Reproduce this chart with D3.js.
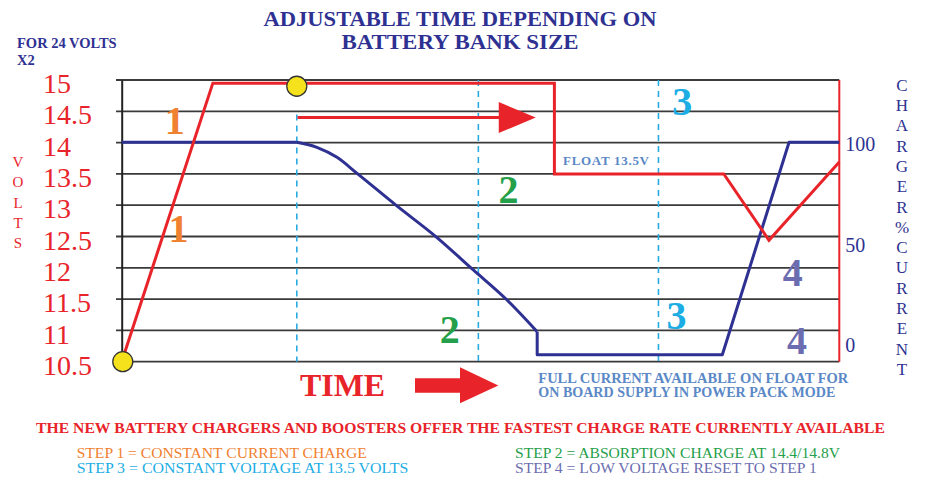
<!DOCTYPE html>
<html>
<head>
<meta charset="utf-8">
<script src="https://cdn.jsdelivr.net/npm/d3@7"></script>
<style>
  body { margin: 0; background: #fff; }
  svg { display: block; font-family: "Liberation Serif", "Times New Roman", serif; }
</style>
</head>
<body>
<script>
// charger voltage (left axis) over time, time is 0..100 of the charge cycle
const voltTime = [0, 12.7, 60.3, 60.3, 83.9, 90.2, 100];
const voltValues = [10.5, 14.95, 14.95, 13.5, 13.5, 12.44, 13.69];

// charger current in % (right axis)
const currentTime = [0, 24.4, 27.2, 30, 32.8, 38.3, 43.9, 49.0, 53.7, 57.9, 57.9, 83.7, 93.0, 100];
const currentPct = [100, 100, 97.5, 92.5, 84.5, 68.4, 52.6, 36.3, 21.3, 5.5, -6, -6, 100, 100];
// points 1..9 are the smooth taper of the absorption stage
const taperStart = 1, taperEnd = 9;

const voltTicks = [10.5, 11, 11.5, 12, 12.5, 13, 13.5, 14, 14.5, 15];
const currentTicks = [0, 50, 100];

// stage boundaries (dashed lines) and the markers
const stageTimes = [24.4, 49.7, 74.8];
const markerTime = [0.15, 24.4];
const markerVolt = [10.5, 14.9];

// absorption arrow at 14.4 V
const arrowVolt = 14.4;
const arrowFrom = 24.5, arrowTo = 57.7;

const steps = ["STEP 1 = CONSTANT CURRENT CHARGE", "STEP 2 = ABSORPTION CHARGE AT 14.4/14.8V",
               "STEP 3 = CONSTANT VOLTAGE AT 13.5 VOLTS", "STEP 4 = LOW VOLTAGE RESET TO STEP 1"];

const red = "#e8242a", navy = "#2e3192", orange = "#f08130", green = "#25a04a",
      cyan = "#1badE4", slate = "#6b6db0", steel = "#5b88c6";
const stepColor = { "1": orange, "2": green, "3": cyan, "4": slate };

// where the big step numbers sit (time, volts)
const stepMarks = [
  { s: "1", t: 7.4, v: 14.14 }, { s: "1", t: 7.9, v: 12.42 },
  { s: "2", t: 53.9, v: 13.03 }, { s: "2", t: 45.7, v: 10.8 },
  { s: "3", t: 78.1, v: 14.44 }, { s: "3", t: 77.3, v: 11.02 },
  { s: "4", t: 93.5, v: 11.71 }, { s: "4", t: 94.1, v: 10.63 }
];

const svg = d3.select("body").append("svg")
  .attr("width", 925)
  .attr("height", 477);

const x = d3.scaleLinear().domain([0, 100]).range([121.7, 839.3]);
const y = d3.scaleLinear().domain([10.5, 15]).range([361.7, 80]);
const y2 = d3.scaleLinear().domain([0, 100]).range([342.7, 142.3]);

// title
svg.selectAll(".title")
  .data(["ADJUSTABLE TIME DEPENDING ON", "BATTERY BANK SIZE"])
  .enter().append("text")
    .attr("x", 460)
    .attr("y", (d, i) => 26 + i * 23.3)
    .attr("text-anchor", "middle")
    .attr("textLength", (d, i) => i == 0 ? 393 : 237)
    .attr("lengthAdjust", "spacingAndGlyphs")
    .style("font-size", "20px")
    .style("font-weight", "bold")
    .style("fill", navy)
    .text(d => d);

svg.selectAll(".note")
  .data(["FOR 24 VOLTS", "X2"])
  .enter().append("text")
    .attr("x", 17)
    .attr("y", (d, i) => 48 + i * 17)
    .style("font-size", "14.5px")
    .style("font-weight", "bold")
    .style("fill", navy)
    .text(d => d);

// grid lines
svg.append("g").selectAll("line")
  .data(voltTicks)
  .enter().append("line")
    .attr("x1", 116)
    .attr("x2", x(100))
    .attr("y1", d => y(d))
    .attr("y2", d => y(d))
    .attr("stroke", "#3a3a3a")
    .attr("stroke-width", 1.8);

// left axis
const leftAxis = svg.append("g")
  .attr("transform", "translate(" + x(0) + ",0)")
  .call(d3.axisLeft(y).tickValues(voltTicks).tickSize(0).tickFormat(d => d));
leftAxis.select(".domain").attr("stroke", "#222").attr("stroke-width", 2);
leftAxis.selectAll("text")
  .attr("x", 43 - x(0))
  .attr("dy", "0.45em")
  .attr("text-anchor", "start")
  .style("font-family", "'Liberation Serif', serif")
  .style("font-size", "28px")
  .style("fill", red);

// right axis
const rightAxis = svg.append("g")
  .attr("transform", "translate(" + x(100) + ",0)")
  .call(d3.axisRight(y2).tickValues(currentTicks).tickSize(0).tickPadding(6));
rightAxis.select(".domain")
  .attr("d", "M0," + y(15) + "V" + y(10.5))
  .attr("stroke", red)
  .attr("stroke-width", 2);
rightAxis.selectAll("text")
  .attr("dy", "0.43em")
  .style("font-family", "'Liberation Serif', serif")
  .style("font-size", "20px")
  .style("fill", navy);

// vertical axis titles
svg.selectAll(".volts")
  .data("VOLTS".split(""))
  .enter().append("text")
    .attr("x", 18)
    .attr("y", (d, i) => 166.7 + i * 20.4)
    .attr("text-anchor", "middle")
    .style("font-size", "15px")
    .style("fill", red)
    .text(d => d);

svg.selectAll(".curr")
  .data("CHARGER%CURRENT".split(""))
  .enter().append("text")
    .attr("x", 902)
    .attr("y", (d, i) => 90.7 + i * 20.3)
    .attr("text-anchor", "middle")
    .style("font-size", "17px")
    .style("fill", navy)
    .text(d => d);

// stage boundaries
svg.append("g").selectAll("line")
  .data(stageTimes)
  .enter().append("line")
    .attr("x1", d => x(d))
    .attr("x2", d => x(d))
    .attr("y1", (d, i) => i == 0 ? y(14.45) : y(15))
    .attr("y2", y(10.5))
    .attr("stroke", "#29abe2")
    .attr("stroke-width", 1.6)
    .attr("stroke-dasharray", "6,5");

// absorption arrow
svg.append("line")
  .attr("x1", x(arrowFrom))
  .attr("x2", x(arrowTo) - 30)
  .attr("y1", y(arrowVolt))
  .attr("y2", y(arrowVolt))
  .attr("stroke", red)
  .attr("stroke-width", 3);
svg.append("path")
  .attr("d", "M" + (x(arrowTo) - 37) + "," + (y(arrowVolt) - 15.5)
    + "L" + x(arrowTo) + "," + y(arrowVolt)
    + "L" + (x(arrowTo) - 37) + "," + (y(arrowVolt) + 15.5) + "Z")
  .attr("fill", red);

// current line: straight steps, smooth taper in the middle
const idx = d3.range(currentPct.length);
const currentLine = d3.line()
  .x(i => x(currentTime[i]))
  .y(i => y2(currentPct[i]));
const pieces = [
  { pts: idx.slice(0, taperStart + 1), curve: d3.curveLinear },
  { pts: idx.slice(taperStart, taperEnd + 1), curve: d3.curveMonotoneX },
  { pts: idx.slice(taperEnd), curve: d3.curveLinear }
];
svg.append("g").selectAll("path")
  .data(pieces)
  .enter().append("path")
    .attr("d", d => currentLine.curve(d.curve)(d.pts))
    .attr("fill", "none")
    .attr("stroke", navy)
    .attr("stroke-width", 3)
    .attr("stroke-linejoin", "round");

// voltage line
const voltLine = d3.line()
  .x((d, i) => x(voltTime[i]))
  .y(d => y(d));
svg.append("path")
  .attr("d", voltLine(voltValues))
  .attr("fill", "none")
  .attr("stroke", red)
  .attr("stroke-width", 3);

// markers
svg.selectAll(".marker")
  .data(markerTime)
  .enter().append("circle")
    .attr("cx", d => x(d))
    .attr("cy", (d, i) => y(markerVolt[i]))
    .attr("r", 10)
    .attr("fill", "#f6e21c")
    .attr("stroke", "#333")
    .attr("stroke-width", 1.3);

svg.append("text")
  .attr("x", 563)
  .attr("y", 165)
  .attr("textLength", 86)
  .style("font-size", "13px")
  .style("font-weight", "bold")
  .style("fill", steel)
  .text("FLOAT 13.5V");

// step numbers
svg.selectAll(".step")
  .data(stepMarks)
  .enter().append("text")
    .attr("x", d => x(d.t))
    .attr("y", d => y(d.v))
    .attr("text-anchor", "middle")
    .style("font-size", "40px")
    .style("font-weight", "bold")
    .style("fill", d => stepColor[d.s])
    .text(d => d.s);

// time label and arrow
svg.append("text")
  .attr("x", 300)
  .attr("y", 396)
  .attr("textLength", 85)
  .attr("lengthAdjust", "spacingAndGlyphs")
  .style("font-size", "32px")
  .style("font-weight", "bold")
  .style("fill", red)
  .text("TIME");
svg.append("path")
  .attr("d", "M415,378.3H460V367.3L498.3,385.5L460,403.3V392.7H415Z")
  .attr("fill", red);

svg.selectAll(".full")
  .data(["FULL CURRENT AVAILABLE ON FLOAT FOR", "ON BOARD SUPPLY IN POWER PACK MODE"])
  .enter().append("text")
    .attr("x", 538.3)
    .attr("y", (d, i) => 383.3 + i * 13.4)
    .attr("textLength", (d, i) => i == 0 ? 310 : 297)
    .attr("lengthAdjust", "spacingAndGlyphs")
    .style("font-size", "14px")
    .style("font-weight", "bold")
    .style("fill", steel)
    .text(d => d);

svg.append("text")
  .attr("x", 36)
  .attr("y", 433.3)
  .attr("textLength", 849)
  .attr("lengthAdjust", "spacingAndGlyphs")
  .style("font-size", "15px")
  .style("font-weight", "bold")
  .style("fill", red)
  .text("THE NEW BATTERY CHARGERS AND BOOSTERS OFFER THE FASTEST CHARGE RATE CURRENTLY AVAILABLE");

// legend of the steps
const stepWidth = [290, 325, 331.6, 301.7];
svg.selectAll(".legend")
  .data(steps)
  .enter().append("text")
    .attr("x", (d, i) => i % 2 == 0 ? 76.7 : 515)
    .attr("y", (d, i) => i < 2 ? 457.7 : 472.7)
    .attr("textLength", (d, i) => stepWidth[i])
    .attr("lengthAdjust", "spacingAndGlyphs")
    .style("font-size", "15px")
    .style("fill", (d, i) => [orange, green, cyan, slate][i])
    .text(d => d);
</script>
</body>
</html>
